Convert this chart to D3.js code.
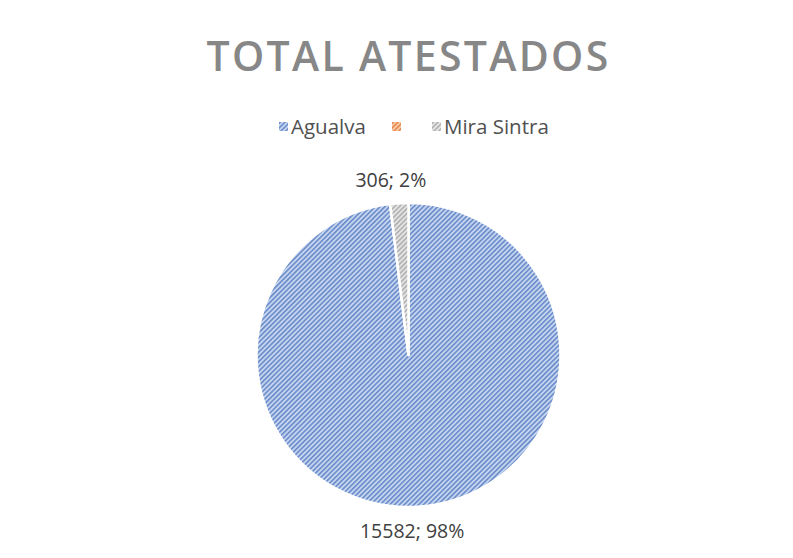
<!DOCTYPE html>
<html>
<head>
<meta charset="utf-8">
<script src="https://cdn.jsdelivr.net/npm/d3@7"></script>
<style>
  body { margin: 0; background: #fff; }
  svg { display: block; font-family: "Open Sans", sans-serif; }
</style>
</head>
<body>
<div id="vis"></div>
<script>
// values
const categories = ["Agualva", "", "Mira Sintra"];
const values = [15582, 0, 306];
const percents = ["98%", "0%", "2%"];
const title = "TOTAL ATESTADOS";

const width = 793, height = 558;
const cx = 408.5, cy = 355, radius = 152;

// stripe fills: [light, dark] per slice
const stripes = [
  {light: "#c6d5ef", dark: "#6a8cca"},
  {light: "#f6c9a9", dark: "#e9864a"},
  {light: "#e4e4e4", dark: "#b0b0b0"}
];

var svg = d3.select("#vis").append("svg")
  .attr("width", width).attr("height", height);

var defs = svg.append("defs");
stripes.forEach((s, i) => {
  var p = defs.append("pattern")
    .attr("id", "stripe" + i)
    .attr("patternUnits", "userSpaceOnUse")
    .attr("width", 3.4).attr("height", 3.4)
    .attr("patternTransform", "rotate(45)");
  p.append("rect").attr("width", 3.4).attr("height", 3.4).attr("fill", s.light);
  p.append("rect").attr("width", 1.6).attr("height", 3.4).attr("fill", s.dark);
});

// title
svg.append("text")
  .attr("x", cx).attr("y", 71)
  .attr("text-anchor", "middle")
  .attr("font-size", 41)
  .attr("font-weight", 600)
  .attr("letter-spacing", 2.3)
  .attr("fill", "#878787")
  .text(title);

// legend
var legendX = [279, 392, 432];
var legend = svg.append("g");
categories.forEach((c, i) => {
  var g = legend.append("g").attr("transform", "translate(" + legendX[i] + ",127)");
  g.append("rect").attr("x", 0).attr("y", -5).attr("width", 9).attr("height", 9)
    .attr("fill", "url(#stripe" + i + ")");
  if (c) {
    g.append("text").attr("x", 12).attr("y", 7)
      .attr("font-size", 20.5).attr("fill", "#505050")
      .text(c);
  }
});

// pie
var pie = d3.pie().sort(null).value(d => d)(values);
var arc = d3.arc().innerRadius(0).outerRadius(radius);

var g = svg.append("g").attr("transform", "translate(" + cx + "," + cy + ")");
g.selectAll("path")
  .data(pie)
  .join("path")
  .attr("d", arc)
  .attr("fill", (d, i) => "url(#stripe" + i + ")")
  .attr("stroke", "#fff")
  .attr("stroke-width", 2.5)
  .attr("stroke-linejoin", "round");

// labels outside
var labelArc = d3.arc().innerRadius(176).outerRadius(176);
g.selectAll("text.lbl")
  .data(pie.filter(d => d.value > 0))
  .join("text")
  .attr("class", "lbl")
  .attr("transform", d => {
    var p = labelArc.centroid(d);
    return "translate(" + (p[0] - 7) + "," + p[1] + ")";
  })
  .attr("text-anchor", "middle")
  .attr("dominant-baseline", "central")
  .attr("font-size", 19.5)
  .attr("fill", "#404040")
  .text(d => d.value + "; " + percents[d.index]);
</script>
</body>
</html>
